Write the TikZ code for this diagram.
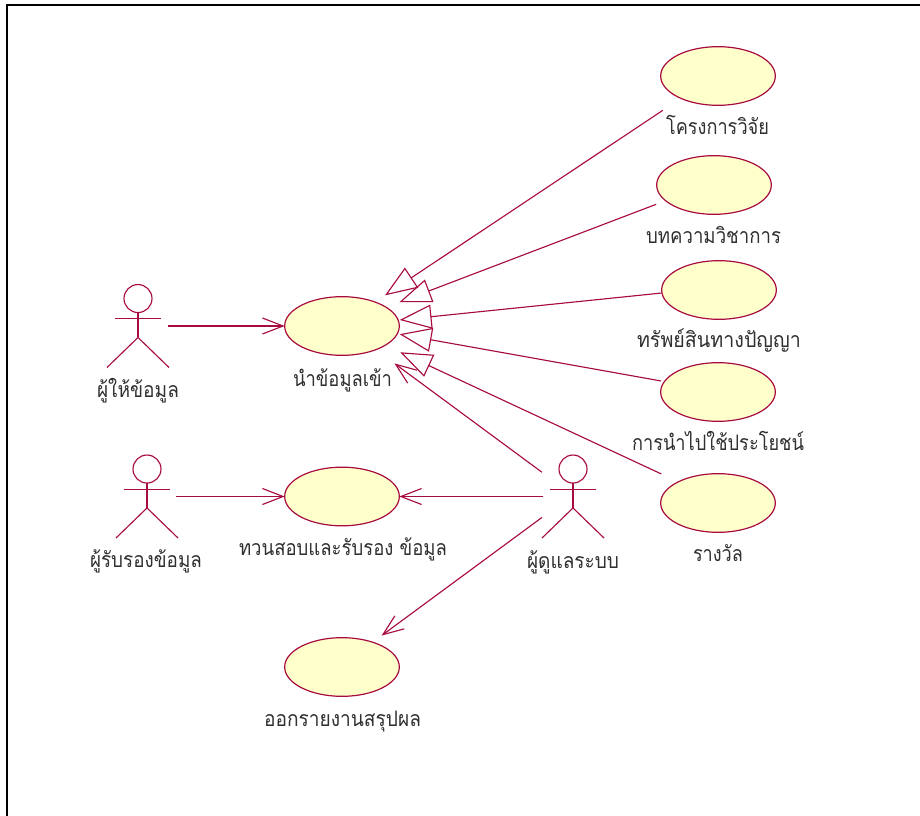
\documentclass[tikz,border=0pt]{standalone}
\usepackage{fontspec}
\usepackage{graphicx}
\newfontfamily\thaifont[Script=Thai]{Loma}
\usetikzlibrary{shapes.geometric,arrows.meta}
\definecolor{umlline}{HTML}{A80B3F}
\definecolor{umlfill}{HTML}{FFFFCB}
\definecolor{umltext}{HTML}{303030}
\tikzset{
  usecase/.style={ellipse,draw=umlline,fill=umlfill,line width=.9pt,minimum width=86pt,minimum height=44pt,inner sep=0pt,outer sep=0pt},
  uclabel/.style={inner sep=0pt,anchor=base,text=umltext,font=\thaifont\fontsize{16pt}{18pt}\selectfont},
  actorbox/.style={rectangle,draw=none,minimum width=46.5pt,minimum height=62.25pt,inner sep=0pt,outer sep=0pt},
  umlconn/.style={draw=umlline,line width=.85pt},
  gen/.style={umlconn,-{Triangle[open,length=24pt,width=18pt,line width=.85pt]}},
  dep/.style={umlconn,-{Straight Barb[length=15.5pt,width=12pt,line width=.85pt]}},
  frameline/.style={draw=black,line width=1.5pt}
}
\newcommand{\fitw}[2]{\resizebox{#1}{\height}{#2}}
\newcommand{\actorfig}[1]{%
  \draw[umlconn] ([yshift=20.6pt]#1.center) circle (10.5pt);
  \draw[umlconn] ([yshift=10.1pt]#1.center) -- ([yshift=-8.6pt]#1.center);
  \draw[umlconn] ([xshift=-17pt,yshift=5.4pt]#1.center) -- ([xshift=17pt,yshift=5.4pt]#1.center);
  \draw[umlconn] (#1.south west) -- ([yshift=-8.6pt]#1.center) -- (#1.south east);
}
\begin{document}
\begin{tikzpicture}[x=.75pt,y=-.75pt]
\useasboundingbox (0,0) rectangle (920,816);
\draw[frameline] (7,816) -- (7,5) -- (920,5);
% use cases
\node[usecase] (r1) at (718,76) {};
\node[usecase] (r2) at (714,185) {};
\node[usecase] (r3) at (719,290) {};
\node[usecase] (r4) at (718,392) {};
\node[usecase] (r5) at (718,503) {};
\node[usecase] (m) at (342,326) {};
\node[usecase] (c) at (342,496.5) {};
\node[usecase] (o) at (342,667) {};
% labels
\node[uclabel] (lr1) at (717.5,135) {\fitw{77.25pt}{โครงการวิจัย}};
\node[uclabel] (lr2) at (713.5,243.5) {\fitw{101.25pt}{บทความวิชาการ}};
\node[uclabel] (lr3) at (719,348) {\fitw{123pt}{ทรัพย์สินทางปัญญา}};
\node[uclabel] (lr4) at (718,450) {\fitw{129pt}{การนำไปใช้ประโยชน์}};
\node[uclabel] (lr5) at (718,561) {\fitw{37.5pt}{รางวัล}};
\node[uclabel] (lm) at (342.5,386) {\fitw{74.25pt}{นำข้อมูลเข้า}};
\node[uclabel] (lc) at (343,555) {\fitw{156pt}{ทวนสอบและรับรอง ข้อมูล}};
\node[uclabel] (lo) at (342.5,726.5) {\fitw{117.75pt}{ออกรายงานสรุปผล}};
% actors
\node[actorbox] (a1) at (138,326) {};
\node[actorbox] (a2) at (147,496.5) {};
\node[actorbox] (a3) at (573,496.5) {};
\actorfig{a1}\actorfig{a2}\actorfig{a3}
\node[uclabel] (la1) at (138,397) {\fitw{61.5pt}{ผู้ให้ข้อมูล}};
\node[uclabel] (la2) at (146,567) {\fitw{84pt}{ผู้รับรองข้อมูล}};
\node[uclabel] (la3) at (573,568) {\fitw{69pt}{ผู้ดูแลระบบ}};
% generalisations
\draw[gen,shorten <=16.2pt,shorten >=9pt] (r1.211) -- (m.36.5);
\draw[gen,shorten <=7.6pt,shorten >=10.6pt] (r2.198.7) -- (m.23);
\draw[gen,shorten <=.4pt,shorten >=1.1pt] (r3.183.9) -- (m.6.9);
\draw[gen,shorten <=2.6pt,shorten >=1.8pt] (r4.169.2) -- (m.-8.8);
\draw[gen,shorten <=14pt,shorten >=12.4pt] (r5.152.8) -- (m.-24.9);
% dependencies
\draw[dep,shorten <=-.8pt] (a1.east) -- (m.west);
\draw[dep,shorten <=-1.5pt] (a2.east) -- (c.west);
\draw[dep,shorten <=-.75pt] (a3.west) -- (c.east);
\draw[dep,shorten >=17.4pt] (a3.142.3) -- (m.-35.2);
\draw[dep,shorten >=8.4pt] (a3.214.7) -- (o.39.3);
\end{tikzpicture}
\end{document}
